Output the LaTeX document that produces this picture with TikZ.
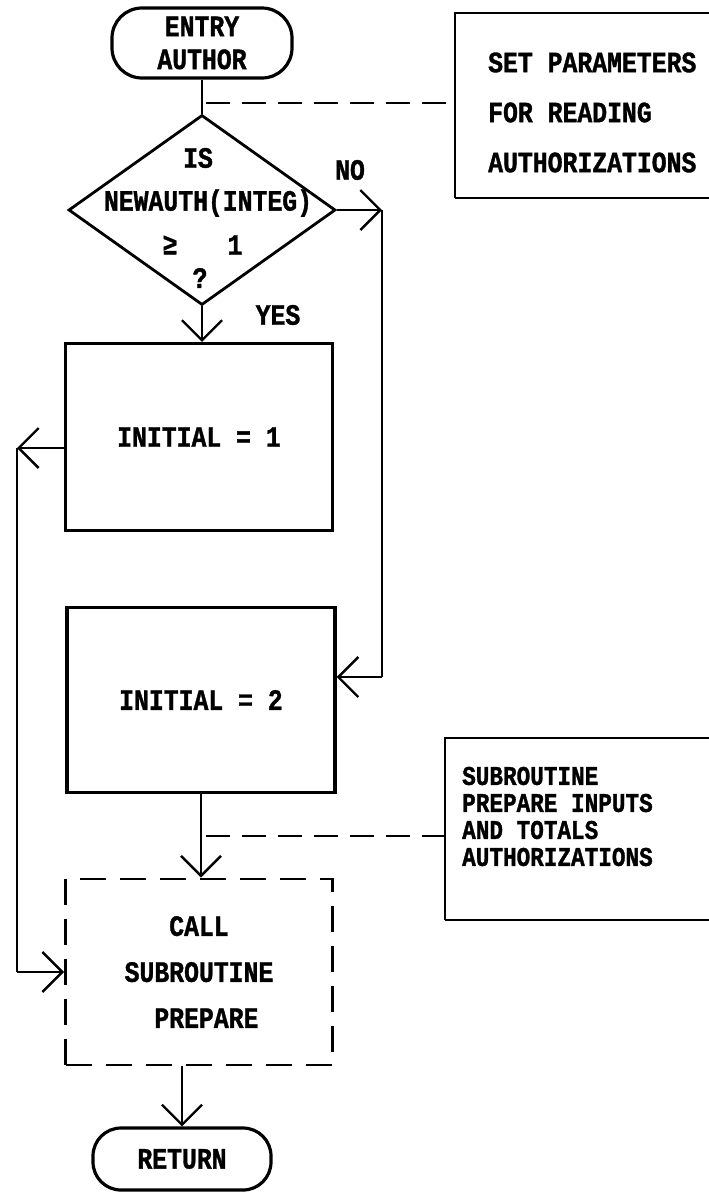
\documentclass[tikz,border=0pt]{standalone}
\usepackage{fontspec}
\newfontfamily\twfont[FakeStretch=0.84,FakeBold=1.2]{Liberation Mono}
\usetikzlibrary{arrows.meta,shapes.geometric}
\begin{document}
\begin{tikzpicture}[x=1pt,y=-1pt,
  txt/.style={font=\twfont\bfseries\fontsize{29.5}{33}\selectfont, inner sep=0pt, align=center},
  shapeline/.style={draw, line width=3.2pt},
  term/.style={shapeline, rectangle, rounded corners=30pt, txt},
  procbox/.style={shapeline, rectangle, txt},
  decbox/.style={draw, line width=2.8pt, diamond, aspect=1.405, minimum width=267pt, minimum height=190pt, inner sep=0pt},
  callbox/.style={draw, line width=2.8pt, dash pattern=on 26pt off 14pt, rectangle, txt},
  conn/.style={line width=2.4pt},
  arr/.style={conn, -{Straight Barb[length=20pt,width=40pt]}},
  annot/.style={line width=2.4pt, dash pattern=on 24pt off 12pt},
  notefr/.style={line width=2.8pt},
  notebot/.style={line width=1.8pt},
]
\useasboundingbox (0,0) rectangle (709,1192);

% terminals and boxes
\node[term, minimum width=180pt, minimum height=70pt] (entry) at (202,43) {ENTRY\\AUTHOR};
\node[decbox] (dec) at (202,210) {};
\node[txt] (q1) at (198,158) {IS};
\node[txt] (q2) at (208,203) {NEWAUTH(INTEG)};
\node[txt] (q3) at (170,245) {≥};
\node[txt] (q4) at (235,245) {1};
\node[txt] (q5) at (200,278) {?};
\node[txt] (no) at (350,170) {NO};
\node[txt] (yes) at (278,315) {YES};

\node[procbox, minimum width=267pt, minimum height=187pt] (b1) at (199,437) {INITIAL = 1};
\node[procbox, minimum width=268pt, minimum height=185pt] (b2) at (201,700) {INITIAL = 2};
\node[callbox, minimum width=267pt, minimum height=186pt] (b3) at (199,972) {CALL\\[13pt]SUBROUTINE\\[13pt]\ PREPARE};
\node[term, minimum width=178pt, minimum height=62pt, rounded corners=28pt] (ret) at (182,1159) {RETURN};

% notes
\draw[notefr] (709,13) -- (455,13) -- (455,198);
\draw[notebot] (455,198) -- (709,198);
\node[txt, align=left, anchor=west] (n1) at (488,112.5) {SET PARAMETERS\\[17pt]FOR READING\\[17pt]AUTHORIZATIONS};

\draw[notefr] (709,738) -- (445,738) -- (445,920);
\draw[notebot] (445,920) -- (709,920);
\node[txt, align=left, anchor=west, font=\twfont\bfseries\fontsize{27}{27}\selectfont] (n2) at (462,816.5) {SUBROUTINE\\PREPARE INPUTS\\AND TOTALS\\AUTHORIZATIONS};

% connectors
\coordinate (j1) at (202,103);
\coordinate (n1w) at (455,103);
\draw[conn] (entry.south) -- (dec.north);
\draw[annot] ([xshift=4pt]j1) -- (n1w);

\draw[arr] (dec.south) -- (dec.south |- b1.north);

\coordinate (c1) at (382,210);
\coordinate (c2) at (382,677);
\draw[arr] (dec.east) -- (c1);
\draw[conn] (c1) -- (c2);
\draw[arr] (c2) -- (c2 -| b2.east);

\coordinate (l1) at (17,448);
\coordinate (l2) at (17,972);
\draw[arr] (l1 -| b1.west) -- (l1);
\draw[conn] (l1) -- (l2);
\draw[arr] (l2) -- (b3.west);

\draw[arr] (b2.south) -- (b2.south |- b3.north);
\coordinate (j2) at (201,836);
\coordinate (n2w) at (445,836);
\draw[annot] ([xshift=5pt]j2) -- (n2w);

\draw[arr] (b3.south -| ret.north) -- (ret.north);
\end{tikzpicture}
\end{document}
